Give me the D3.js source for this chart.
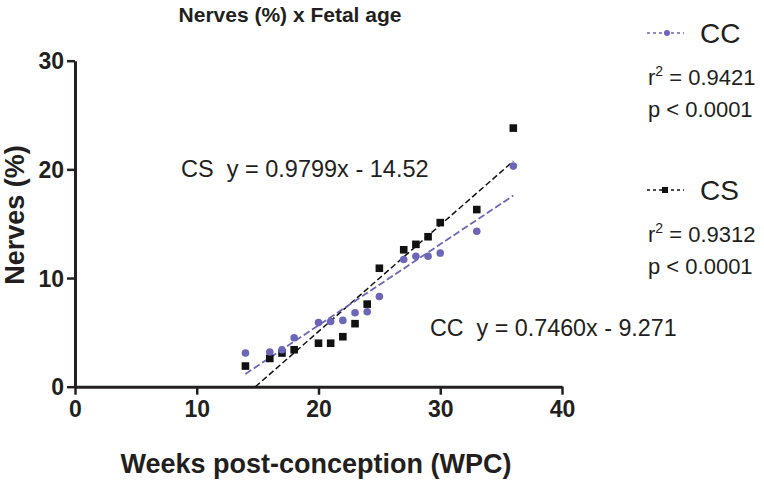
<!DOCTYPE html>
<html>
<head>
<meta charset="utf-8">
<script src="https://cdn.jsdelivr.net/npm/d3@7"></script>
<style>
  body { margin: 0; background: #fff; }
  svg { font-family: "Liberation Sans", Arial, sans-serif; }
</style>
</head>
<body>
<svg width="764" height="480"></svg>
<script>
  // weeks post-conception and nerve % for each group
  const weeks = [14, 16, 17, 18, 20, 21, 22, 23, 24, 25, 27, 28, 29, 30, 33, 36];
  const ccValues = [3.1, 3.2, 3.4, 4.5, 5.9, 6.0, 6.1, 6.8, 6.9, 8.3, 11.7, 12.0, 12.0, 12.3, 14.3, 20.3];
  const csValues = [1.9, 2.6, 3.1, 3.4, 4.0, 4.0, 4.6, 5.8, 7.6, 10.9, 12.6, 13.1, 13.8, 15.1, 16.3, 23.8];
  const xTicks = [0, 10, 20, 30, 40];
  const yTicks = [0, 10, 20, 30];

  // linear fits as reported on the figure
  const ccFit = {slope: 0.7460, intercept: -9.271};
  const csFit = {slope: 0.9799, intercept: -14.52};

  const ink = "#231f20";
  const ccColor = "#6c66b8";
  const csColor = "#111";

  const svg = d3.select("svg");

  const x = d3.scaleLinear().domain([0, 40]).range([75, 562]);
  const y = d3.scaleLinear().domain([0, 30]).range([386.7, 60.7]);

  // axes
  const xAxis = svg.append("g")
      .attr("transform", "translate(0," + y(0) + ")")
      .call(d3.axisBottom(x).tickValues(xTicks).tickSize(8).tickPadding(6).tickSizeOuter(0));

  const yAxis = svg.append("g")
      .attr("transform", "translate(" + x(0) + ",0)")
      .call(d3.axisLeft(y).tickValues(yTicks).tickSize(8).tickPadding(3).tickSizeOuter(0));

  [xAxis, yAxis].forEach((a) => {
    a.select(".domain").attr("stroke", ink).attr("stroke-width", 3);
    a.selectAll(".tick line").attr("stroke", ink).attr("stroke-width", 2.5);
    a.selectAll(".tick text")
        .attr("fill", ink)
        .attr("font-size", 23)
        .attr("font-weight", "bold")
        .attr("font-family", "Liberation Sans, Arial, sans-serif");
  });
  yAxis.selectAll(".tick text").attr("dy", "0.36em");
  xAxis.selectAll(".tick text").attr("dy", "0.72em");

  // fit lines, kept above y = 0
  const fitLine = (fit) => {
    const x0 = Math.max(d3.min(weeks), -fit.intercept / fit.slope);
    const x1 = d3.max(weeks);
    return [[x0, fit.slope * x0 + fit.intercept], [x1, fit.slope * x1 + fit.intercept]];
  };
  const line = d3.line().x((d) => x(d[0])).y((d) => y(d[1]));

  svg.append("path")
      .attr("d", line(fitLine(csFit)))
      .attr("fill", "none")
      .attr("stroke", csColor)
      .attr("stroke-width", 1.5)
      .attr("stroke-dasharray", "6,3");

  svg.append("path")
      .attr("d", line(fitLine(ccFit)))
      .attr("fill", "none")
      .attr("stroke", ccColor)
      .attr("stroke-width", 1.8)
      .attr("stroke-dasharray", "7,3");

  // points
  svg.selectAll(".cs")
    .data(weeks.map((w, i) => [w, csValues[i]]))
    .enter().append("rect")
      .attr("class", "cs")
      .attr("x", (d) => x(d[0]) - 3.8)
      .attr("y", (d) => y(d[1]) - 3.8)
      .attr("width", 7.6)
      .attr("height", 7.6)
      .attr("fill", csColor);

  svg.selectAll(".cc")
    .data(weeks.map((w, i) => [w, ccValues[i]]))
    .enter().append("circle")
      .attr("class", "cc")
      .attr("cx", (d) => x(d[0]))
      .attr("cy", (d) => y(d[1]))
      .attr("r", 3.8)
      .attr("fill", ccColor);

  // title and axis labels
  svg.append("text")
      .attr("x", 290).attr("y", 22)
      .attr("text-anchor", "middle")
      .attr("font-size", 21).attr("font-weight", "bold").attr("fill", ink)
      .text("Nerves (%) x Fetal age");

  svg.append("text")
      .attr("x", 316).attr("y", 473)
      .attr("text-anchor", "middle")
      .attr("font-size", 27).attr("font-weight", "bold").attr("fill", ink)
      .text("Weeks post-conception (WPC)");

  svg.append("text")
      .attr("transform", "translate(24,215) rotate(-90)")
      .attr("text-anchor", "middle")
      .attr("font-size", 27).attr("font-weight", "bold").attr("fill", ink)
      .text("Nerves (%)");

  // equations
  svg.append("text")
      .attr("x", 181).attr("y", 177)
      .attr("font-size", 23.5).attr("fill", ink)
      .attr("xml:space", "preserve")
      .text("CS  y = 0.9799x - 14.52");

  svg.append("text")
      .attr("x", 430).attr("y", 336)
      .attr("font-size", 23.3).attr("fill", ink)
      .attr("xml:space", "preserve")
      .text("CC  y = 0.7460x - 9.271");

  // legend blocks
  const legend = [
    {name: "CC", color: ccColor, r2: "0.9421", top: 33, shape: "circle"},
    {name: "CS", color: csColor, r2: "0.9312", top: 190, shape: "square"}
  ];

  legend.forEach((d) => {
    const g = svg.append("g");
    g.append("line")
        .attr("x1", 647).attr("x2", 684)
        .attr("y1", d.top).attr("y2", d.top)
        .attr("stroke", d.color).attr("stroke-width", 1.5)
        .attr("stroke-dasharray", "3,3");
    if (d.shape === "circle") {
      g.append("circle").attr("cx", 667).attr("cy", d.top).attr("r", 3).attr("fill", d.color);
    } else {
      g.append("rect").attr("x", 662).attr("y", d.top - 3).attr("width", 6).attr("height", 6).attr("fill", d.color);
    }
    g.append("text")
        .attr("x", 700).attr("y", d.top + 10)
        .attr("font-size", 28).attr("fill", ink)
        .text(d.name);
    const r = g.append("text")
        .attr("x", 648).attr("y", d.top + 52)
        .attr("font-size", 22).attr("fill", ink);
    r.append("tspan").text("r");
    r.append("tspan").attr("dy", -9).attr("font-size", 14).text("2");
    r.append("tspan").attr("dy", 9).text(" = " + d.r2);
    g.append("text")
        .attr("x", 648).attr("y", d.top + 84)
        .attr("font-size", 22).attr("fill", ink)
        .text("p < 0.0001");
  });
</script>
</body>
</html>
